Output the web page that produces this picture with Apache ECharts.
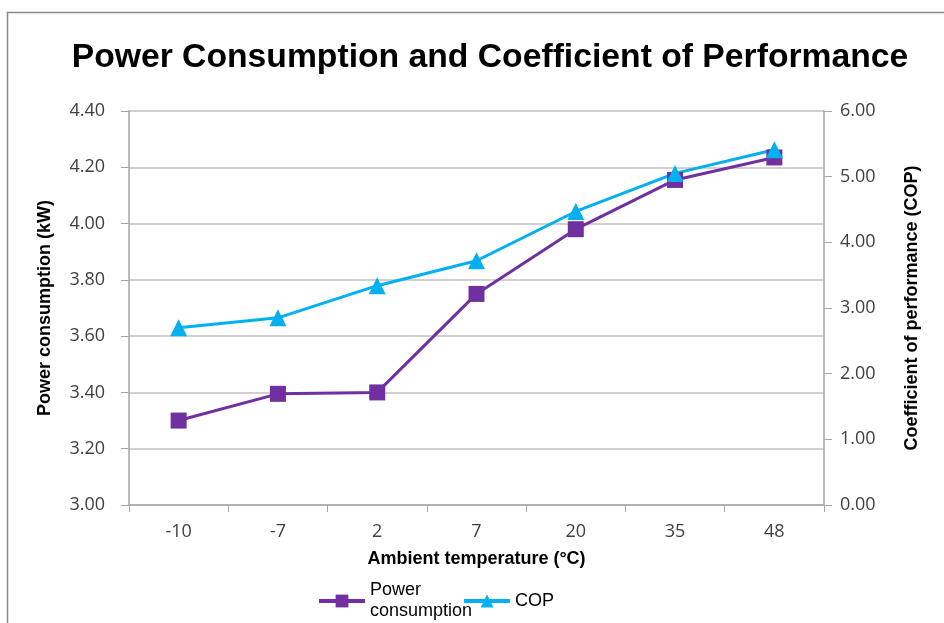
<!DOCTYPE html>
<html><head><meta charset="utf-8">
<script src="https://cdn.jsdelivr.net/npm/echarts@6/dist/echarts.min.js"></script>
<style>html,body{margin:0;padding:0;background:#fff}#c{width:944px;height:623px}</style>
</head><body><div id="c"></div>
<script>
const categories = ['-10', '-7', '2', '7', '20', '35', '48'];
const powerConsumption = [3.30, 3.395, 3.40, 3.75, 3.98, 4.155, 4.235];
const cop = [2.70, 2.85, 3.34, 3.72, 4.47, 5.05, 5.41];
const leftTicks = {min: 3.0, max: 4.4, interval: 0.2};
const rightTicks = {min: 0, max: 6, interval: 1};

const chart = echarts.init(document.getElementById('c'));
const labelFont = {fontFamily: 'Open Sans', fontSize: 18, color: '#404040'};
const nameFont = {fontFamily: 'Liberation Sans', fontWeight: 'bold', fontSize: 18, color: '#000'};
chart.setOption({
  animation: false,
  title: {
    text: 'Power Consumption and Coefficient of Performance',
    left: 485, top: 36, textAlign: 'center',
    textStyle: {fontFamily: 'Liberation Sans', fontWeight: 'bold', fontSize: 33.7, color: '#000'}
  },
  graphic: [{type: 'rect', shape: {x: 7.5, y: 12.5, width: 960, height: 640},
    style: {fill: 'none', stroke: '#888', lineWidth: 1.5}, silent: true}],
  legend: {
    top: 575, left: 312, itemWidth: 46, itemHeight: 16, itemGap: -10,
    lineStyle: {width: 4},
    textStyle: {fontFamily: 'Liberation Sans', fontSize: 18, color: '#000', lineHeight: 21, padding: [0, 0, 0, 0]},
    data: ['Power\nconsumption', 'COP']
  },
  grid: {left: 129, right: 120, top: 111, bottom: 118},
  xAxis: {
    type: 'category', data: categories, boundaryGap: true,
    name: 'Ambient temperature (°C)', nameLocation: 'middle', nameGap: 45,
    nameTextStyle: nameFont,
    axisLine: {lineStyle: {color: '#a6a6a6', width: 1.5}},
    axisTick: {show: true, length: 7, lineStyle: {color: '#a6a6a6'}},
    axisLabel: Object.assign({margin: 18}, labelFont)
  },
  yAxis: [{
    type: 'value', min: leftTicks.min, max: leftTicks.max, interval: leftTicks.interval,
    name: 'Power consumption (kW)', nameLocation: 'middle', nameGap: 75, nameRotate: 90,
    nameTextStyle: nameFont,
    axisLine: {show: true, lineStyle: {color: '#a6a6a6', width: 1.5}},
    axisTick: {show: true, length: 8, lineStyle: {color: '#a6a6a6'}},
    splitLine: {show: true, lineStyle: {color: '#c0c0c0', width: 1.5}},
    axisLabel: Object.assign({margin: 24, formatter: v => v.toFixed(2)}, labelFont)
  }, {
    type: 'value', min: rightTicks.min, max: rightTicks.max, interval: rightTicks.interval,
    name: 'Coefficient of performance (COP)', nameLocation: 'middle', nameGap: 79, nameRotate: 90,
    nameTextStyle: nameFont,
    axisLine: {show: true, lineStyle: {color: '#a6a6a6', width: 1.5}},
    axisTick: {show: true, length: 8, lineStyle: {color: '#a6a6a6'}},
    splitLine: {show: false},
    axisLabel: Object.assign({margin: 16, formatter: v => v.toFixed(2)}, labelFont)
  }],
  series: [{
    name: 'Power\nconsumption', type: 'line', yAxisIndex: 0, data: powerConsumption,
    symbol: 'rect', symbolSize: 16, color: '#7030A0',
    lineStyle: {width: 3, color: '#7030A0'}, itemStyle: {color: '#7030A0'}
  }, {
    name: 'COP', type: 'line', yAxisIndex: 1, data: cop,
    symbol: 'triangle', symbolSize: 17, color: '#00B0F0',
    lineStyle: {width: 3, color: '#00B0F0'}, itemStyle: {color: '#00B0F0'}
  }]
});
</script></body></html>
